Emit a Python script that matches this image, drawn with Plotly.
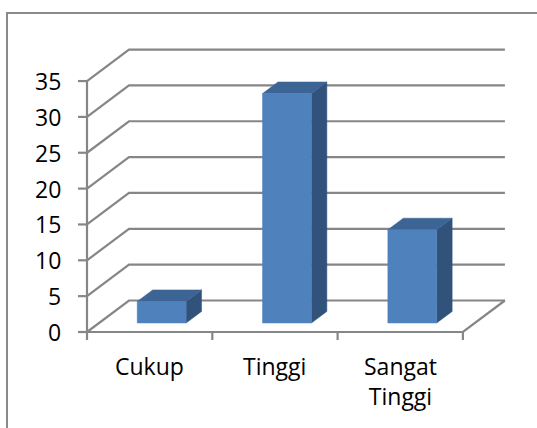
import plotly.graph_objects as go

# ---- data ----
categories = ["Cukup", "Tinggi", "Sangat<br>Tinggi"]
values = [3, 32, 13]
y_ticks = [0, 5, 10, 15, 20, 25, 30, 35]

# ---- style / projection constants ----
W, H = 537, 428
PX_X = 125.3          # pixels per category unit
PX_Y = 7.17           # pixels per value unit
X0_PX, Y0_PX = 87, 332  # pixel position of (-0.5, 0) front corner
DX = 42 / PX_X        # depth offset (category units) for full depth
DY = 31.5 / PX_Y      # depth offset (value units) for full depth
BAR_W = 0.39
D0, D1 = 0.286, 0.654
GRID = "#868686"
FRONT, TOP, SIDE = "#4f81bd", "#3c6494", "#31527b"
FONT = "Open Sans"
FSIZE = 23

n = len(categories)
xmin, xmax = -0.5, n - 0.5
ymax = max(y_ticks)


def proj(x, v, d):
    return x + d * DX, v + d * DY


fig = go.Figure()

# grid / walls
gx, gy = [], []
for v in y_ticks:
    a = proj(xmin, v, 0)
    b = proj(xmin, v, 1)
    c = proj(xmax, v, 1)
    gx += [a[0], b[0], c[0], None]
    gy += [a[1], b[1], c[1], None]
# front y axis line
gx += [xmin, xmin, None]
gy += [0, ymax, None]
# floor front edge and right edge
p = proj(xmax, 0, 1)
gx += [xmin, xmax, p[0], None]
gy += [0, 0, p[1], None]
# y ticks
tl = 9 / PX_X
for v in y_ticks:
    gx += [xmin - tl, xmin, None]
    gy += [v, v, None]
# x ticks
tly = 8 / PX_Y
for k in range(n + 1):
    gx += [xmin + k, xmin + k, None]
    gy += [0, -tly, None]
fig.add_trace(go.Scatter(x=gx, y=gy, mode="lines",
                         line=dict(color=GRID, width=2.2),
                         hoverinfo="skip", showlegend=False))


def face_trace(polys, color):
    xs, ys = [], []
    for poly in polys:
        for (x, y) in poly:
            xs.append(x)
            ys.append(y)
        xs.append(poly[0][0])
        ys.append(poly[0][1])
        xs.append(None)
        ys.append(None)
    return go.Scatter(x=xs, y=ys, mode="lines", fill="toself",
                      fillcolor=color, line=dict(color=color, width=0.5),
                      hoverinfo="skip", showlegend=False)


fronts, tops, sides = [], [], []
for i, v in enumerate(values):
    x0, x1 = i - BAR_W / 2, i + BAR_W / 2
    fronts.append([proj(x0, 0, D0), proj(x1, 0, D0), proj(x1, v, D0), proj(x0, v, D0)])
    tops.append([proj(x0, v, D0), proj(x1, v, D0), proj(x1, v, D1), proj(x0, v, D1)])
    sides.append([proj(x1, 0, D0), proj(x1, 0, D1), proj(x1, v, D1), proj(x1, v, D0)])

fig.add_trace(face_trace(sides, SIDE))
fig.add_trace(face_trace(tops, TOP))
fig.add_trace(face_trace(fronts, FRONT))

annotations = []
for v in y_ticks:
    annotations.append(dict(x=xmin - 0.195, y=v, xref="x", yref="y", text=str(v),
                            showarrow=False, xanchor="right", yanchor="middle",
                            font=dict(family=FONT, size=FSIZE, color="black")))
for i, c in enumerate(categories):
    annotations.append(dict(x=i, y=-2.2, xref="x", yref="y", text=c,
                            showarrow=False, xanchor="center", yanchor="top",
                            font=dict(family=FONT, size=FSIZE, color="black")))

x_lo = xmin - X0_PX / PX_X
x_hi = xmin + (W - X0_PX) / PX_X
y_hi = Y0_PX / PX_Y
y_lo = -(H - Y0_PX) / PX_Y

fig.update_layout(
    width=W, height=H,
    margin=dict(l=0, r=0, t=0, b=0),
    paper_bgcolor="white", plot_bgcolor="white",
    xaxis=dict(range=[x_lo, x_hi], visible=False, fixedrange=True),
    yaxis=dict(range=[y_lo, y_hi], visible=False, fixedrange=True),
    annotations=annotations,
    shapes=[dict(type="rect", xref="paper", yref="paper",
                 x0=7 / W, x1=1.1, y0=-0.1, y1=1 - 13 / H,
                 line=dict(color="#8a8a8a", width=2), layer="below")],
    showlegend=False,
)

fig.write_html("out.html")
